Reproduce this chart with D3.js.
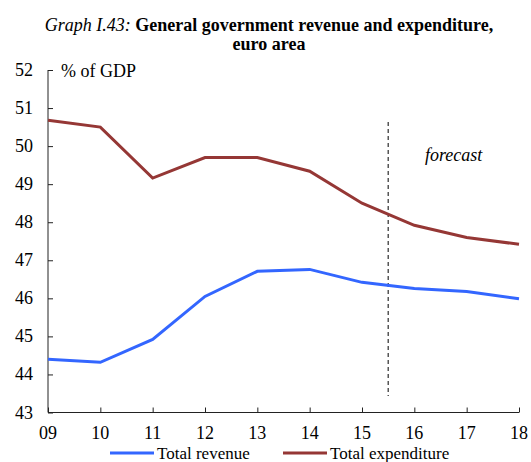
<!DOCTYPE html>
<meta charset="utf-8">
<style>
body { margin: 0; background: #fff; }
</style>
<svg></svg>
<script src="https://cdn.jsdelivr.net/npm/d3@7"></script>
<script>

var years = ["09", "10", "11", "12", "13", "14", "15", "16", "17", "18"];
var revenue = [44.4, 44.32, 44.92, 46.05, 46.71, 46.76, 46.42, 46.26, 46.18, 45.99];
var expenditure = [50.68, 50.5, 49.16, 49.7, 49.7, 49.34, 48.5, 47.92, 47.6, 47.42];
var yTicks = [43, 44, 45, 46, 47, 48, 49, 50, 51, 52];

var width = 531,
    height = 462;

var svg = d3.select("svg")
    .attr("width", width)
    .attr("height", height)
    .attr("font-family", "'Liberation Serif'");

var x = d3.scalePoint()
    .domain(years)
    .range([48, 519]);

var y = d3.scaleLinear()
    .domain([43, 52])
    .range([412.5, 70]);

// title
var title = svg.append("text")
    .attr("x", 269)
    .attr("y", 31)
    .attr("text-anchor", "middle")
    .attr("font-size", 18);
title.append("tspan").attr("font-style", "italic").text("Graph I.43: ");
title.append("tspan").attr("font-weight", "bold").text("General government revenue and expenditure,");
svg.append("text")
    .attr("x", 269)
    .attr("y", 50)
    .attr("text-anchor", "middle")
    .attr("font-size", 18)
    .attr("font-weight", "bold")
    .text("euro area");

// axes
var yAxis = svg.append("g")
    .attr("transform", "translate(48,0)")
    .call(d3.axisRight(y).tickValues(yTicks).tickSize(5).tickFormat(""));
yAxis.selectAll("line, path").attr("stroke", "#222");
yAxis.select(".domain").attr("d", "M0," + y(52) + "V" + y(43));

svg.append("g").selectAll("text")
    .data(yTicks)
  .enter().append("text")
    .attr("x", 33)
    .attr("y", function(d) { return y(d) + 6; })
    .attr("text-anchor", "end")
    .attr("font-size", 18)
    .text(function(d) { return d; });

var xAxis = svg.append("g")
    .attr("transform", "translate(0," + y(43) + ")")
    .call(d3.axisTop(x).tickSize(5).tickFormat(""));
xAxis.selectAll("line, path").attr("stroke", "#222");
xAxis.select(".domain").attr("d", "M48,0H519");

svg.append("g").selectAll("text")
    .data(years)
  .enter().append("text")
    .attr("x", function(d) { return x(d); })
    .attr("y", 439)
    .attr("text-anchor", "middle")
    .attr("font-size", 18)
    .text(function(d) { return d; });

svg.append("text")
    .attr("x", 61)
    .attr("y", 77)
    .attr("font-size", 18)
    .text("% of GDP");

// forecast divider
var xf = (x("15") + x("16")) / 2;
svg.append("line")
    .attr("x1", xf).attr("x2", xf)
    .attr("y1", 122).attr("y2", 396)
    .attr("stroke", "#000")
    .attr("stroke-width", 1)
    .attr("stroke-dasharray", "4,3");

svg.append("text")
    .attr("x", 425)
    .attr("y", 161)
    .attr("font-size", 18)
    .attr("font-style", "italic")
    .text("forecast");

// lines
var line = d3.line()
    .x(function(d, i) { return x(years[i]); })
    .y(function(d) { return y(d); });

svg.append("path")
    .datum(expenditure)
    .attr("fill", "none")
    .attr("stroke", "#953735")
    .attr("stroke-width", 3)
    .attr("d", line);

svg.append("path")
    .datum(revenue)
    .attr("fill", "none")
    .attr("stroke", "#3366ff")
    .attr("stroke-width", 3)
    .attr("d", line);

// legend
var legend = [
  { name: "Total revenue", color: "#3366ff", x: 110 },
  { name: "Total expenditure", color: "#953735", x: 283 }
];
var lg = svg.append("g").selectAll("g")
    .data(legend)
  .enter().append("g")
    .attr("transform", function(d) { return "translate(" + d.x + ",453)"; });
lg.append("line")
    .attr("x1", 0).attr("x2", 44)
    .attr("stroke", function(d) { return d.color; })
    .attr("stroke-width", 3);
lg.append("text")
    .attr("x", 47)
    .attr("y", 6)
    .attr("font-size", 17)
    .text(function(d) { return d.name; });

</script>
